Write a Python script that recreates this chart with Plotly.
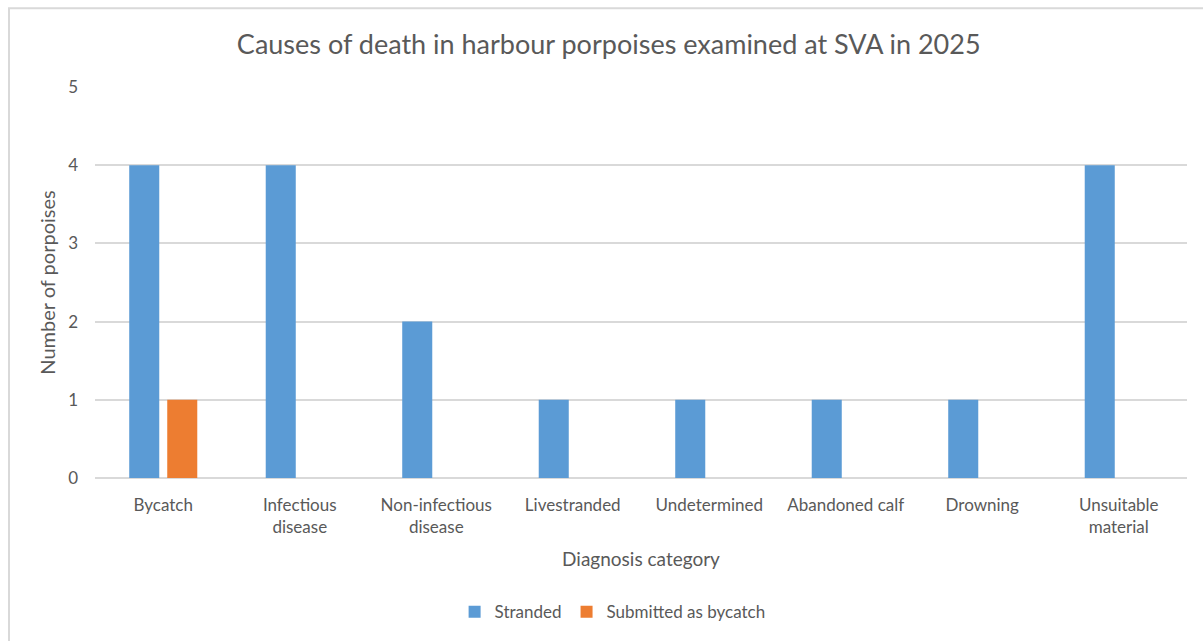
import plotly.graph_objects as go

# Diagnosis categories and counts per submission type
categories = [
    "Bycatch",
    "Infectious<br>disease",
    "Non-infectious<br>disease",
    "Livestranded",
    "Undetermined",
    "Abandoned calf",
    "Drowning",
    "Unsuitable<br>material",
]
stranded = [4, 4, 2, 1, 1, 1, 1, 4]
submitted_bycatch = [1, 0, 0, 0, 0, 0, 0, 0]
y_ticks = [0, 1, 2, 3, 4, 5]

FONT = "Lato, 'Open Sans', sans-serif"
TEXT = "#595959"
GRID = "#D9D9D9"

fig = go.Figure()
fig.add_trace(go.Bar(
    x=categories, y=stranded, name="Stranded",
    marker=dict(color="#5B9BD5", line=dict(width=0)),
))
fig.add_trace(go.Bar(
    x=categories, y=submitted_bycatch, name="Submitted as bycatch",
    marker=dict(color="#ED7D31", line=dict(width=0)),
))

fig.update_layout(
    width=1203, height=641,
    margin=dict(l=95, r=16, t=87, b=162),
    paper_bgcolor="white", plot_bgcolor="white",
    font=dict(family=FONT, color=TEXT, size=17),
    barmode="group", bargap=0.443, bargroupgap=0.21,
    title=dict(
        text="Causes of death in harbour porpoises examined at SVA in 2025",
        x=0.506, xanchor="center", y=0.93, yanchor="middle",
        font=dict(family=FONT, size=27, color=TEXT),
    ),
    xaxis=dict(
        title=dict(text="Diagnosis category", font=dict(size=19, color=TEXT), standoff=16),
        showgrid=False, showline=False, zeroline=False, ticks="",
        ticklabelstandoff=15,
        tickfont=dict(size=17, color=TEXT),
    ),
    yaxis=dict(
        title=dict(text="Number of porpoises", font=dict(size=20, color=TEXT), standoff=7),
        range=[0, 5], tickvals=y_ticks, ticks="",
        showgrid=True, gridcolor=GRID, gridwidth=1.5,
        zeroline=True, zerolinecolor=GRID, zerolinewidth=1.5,
        showline=False, ticklabelstandoff=16,
        tickfont=dict(size=17, color=TEXT),
    ),
    legend=dict(
        orientation="h", x=0.474, xanchor="center", y=-0.34, yanchor="middle",
        font=dict(size=17, color=TEXT), itemwidth=30, traceorder="normal",
    ),
    showlegend=True,
)

# Light frame around the chart area
fig.add_shape(
    type="rect", xref="paper", yref="paper",
    x0=(9 - 95) / 1092, x1=1.2, y0=-0.6, y1=1 + (87 - 8) / 392,
    line=dict(color=GRID, width=2), fillcolor="rgba(0,0,0,0)", layer="below",
)

fig.write_html("out.html")
